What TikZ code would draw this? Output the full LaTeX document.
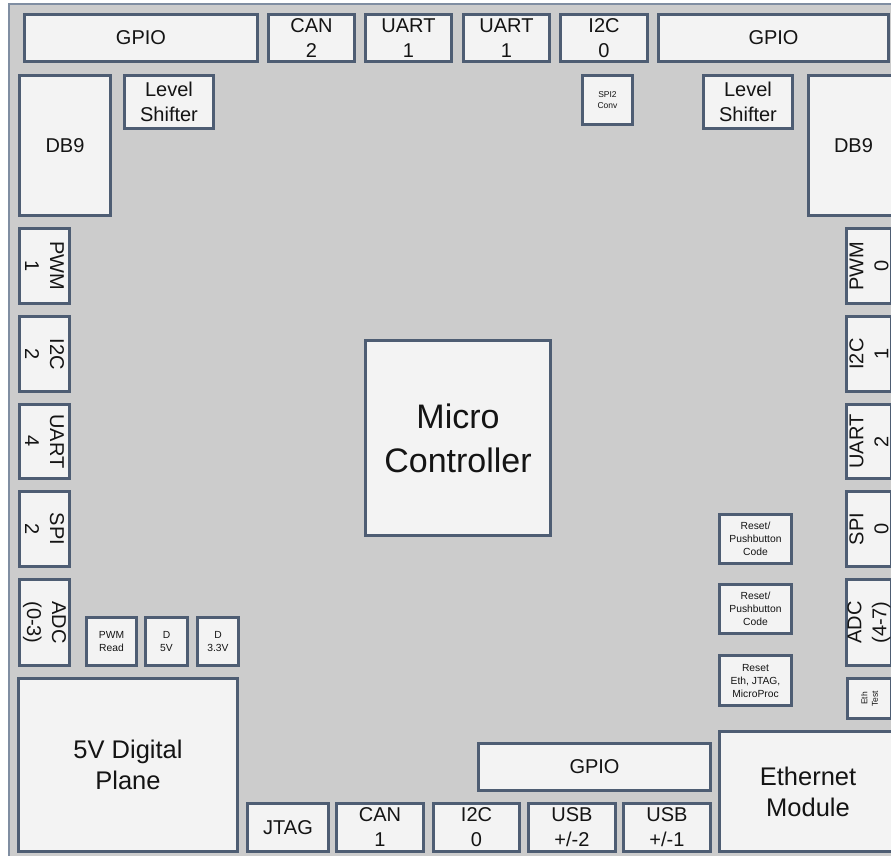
\documentclass[tikz,border=0pt]{standalone}
\usepackage{fontspec}
\setmainfont{Liberation Sans}
\definecolor{boardgray}{RGB}{204,204,204}
\definecolor{boardedge}{RGB}{128,142,162}
\definecolor{boxedge}{RGB}{78,93,115}
\definecolor{boxfill}{RGB}{243,243,243}
\definecolor{txt}{RGB}{20,20,20}
\tikzset{
  pcb/.style={draw=boxedge, line width=3pt, fill=boxfill, inner sep=0pt, outer sep=0pt,
    align=center, text=txt, font=\fontsize{20}{25}\selectfont},
  big/.style={font=\fontsize{34}{44}\selectfont},
  mid/.style={font=\fontsize{25.5}{31}\selectfont},
  small/.style={font=\fontsize{10.3}{13}\selectfont},
  tiny/.style={font=\fontsize{8.5}{10.5}\selectfont},
}
% name, x1, y1, x2, y2, extra style, text
\newcommand{\pcbbox}[7]{%
  \node[pcb,#6,minimum width={#4-#2-3}, minimum height={#5-#3-3}] (#1) at ({(#2+#4)/2},{(#3+#5)/2}) {#7};}
% name, x1, y1, x2, y2, angle, text
\newcommand{\pcbrot}[7]{%
  \node[pcb,rotate=#6,minimum width={#5-#3-3}, minimum height={#4-#2-3}] (#1) at ({(#2+#4)/2},{(#3+#5)/2}) {#7};}
\begin{document}
\begin{tikzpicture}[x=1pt,y=-1pt]
\useasboundingbox (0,0) rectangle (891,856);
\clip (0,0) rectangle (891,856);
% board
\draw[fill=boardgray, draw=boardedge, line width=2pt] (9,4) rectangle (905,870);
% top row
\pcbbox{gpioTL}{23}{13}{259}{63}{}{GPIO}
\pcbbox{can2}{267}{13}{356}{63}{}{CAN\\2}
\pcbbox{uart1a}{364}{13}{453}{63}{}{UART\\1}
\pcbbox{uart1b}{462}{13}{551}{63}{}{UART\\1}
\pcbbox{i2c0t}{559}{13}{649}{63}{}{I2C\\0}
\pcbbox{gpioTR}{657}{13}{890}{63}{}{GPIO}
% second row
\pcbbox{db9L}{18}{74}{112}{217}{}{DB9}
\pcbbox{lsL}{123}{74}{215}{130}{}{Level\\Shifter}
\pcbbox{spiconv}{581}{74}{634}{126}{tiny}{SPI2\\Conv}
\pcbbox{lsR}{702}{74}{794}{130}{}{Level\\Shifter}
\pcbbox{db9R}{807}{74}{900}{217}{}{DB9}
% left column
\pcbrot{pwm1}{18}{227}{71}{305}{-90}{PWM\\1}
\pcbrot{i2c2}{18}{315}{71}{393}{-90}{I2C\\2}
\pcbrot{uart4}{18}{403}{71}{480}{-90}{UART\\4}
\pcbrot{spi2}{18}{490}{71}{568}{-90}{SPI\\2}
\pcbrot{adc03}{18}{578}{71}{667}{-90}{ADC\\(0-3)}
\pcbbox{pwmread}{85}{616}{138}{667}{small}{PWM\\Read}
\pcbbox{d5v}{144}{616}{189}{667}{small}{D\\5V}
\pcbbox{d33v}{196}{616}{240}{667}{small}{D\\3.3V}
% right column
\pcbrot{pwm0}{845}{227}{893}{305}{90}{PWM\\0}
\pcbrot{i2c1}{845}{315}{893}{393}{90}{I2C\\1}
\pcbrot{uart2}{845}{403}{893}{480}{90}{UART\\2}
\pcbrot{spi0}{845}{490}{893}{568}{90}{SPI\\0}
\pcbrot{adc47}{845}{578}{893}{667}{90}{ADC\\(4-7)}
\node[pcb,rotate=90,tiny,minimum width=40, minimum height=44] (ethtest) at (869.5,698.5) {Eth\\Test};
% reset boxes
\pcbbox{rpc1}{718}{513}{793}{565}{small}{Reset/\\Pushbutton\\Code}
\pcbbox{rpc2}{718}{583}{793}{635}{small}{Reset/\\Pushbutton\\Code}
\pcbbox{rst}{718}{654}{793}{707}{small}{Reset\\Eth, JTAG,\\MicroProc}
% micro controller
\pcbbox{mcu}{364}{339}{552}{537}{big}{Micro\\Controller}
% bottom
\pcbbox{plane}{17}{677}{239}{853}{mid}{5V Digital\\Plane}
\pcbbox{jtag}{246}{802}{330}{853}{}{JTAG}
\pcbbox{can1}{335}{802}{425}{853}{}{CAN\\1}
\pcbbox{i2c0b}{432}{802}{521}{853}{}{I2C\\0}
\pcbbox{usb2}{527}{802}{617}{853}{}{USB\\+/-2}
\pcbbox{usb1}{622}{802}{712}{853}{}{USB\\+/-1}
\pcbbox{gpioB}{477}{742}{712}{792}{}{GPIO}
\pcbbox{eth}{718}{730}{898}{853}{mid}{Ethernet\\Module}
\end{tikzpicture}
\end{document}
